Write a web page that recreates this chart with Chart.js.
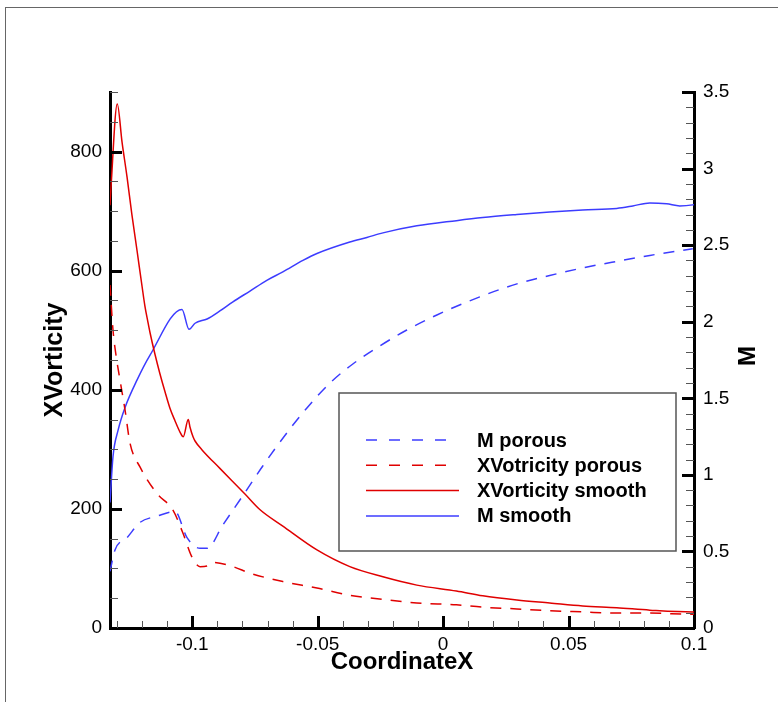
<!DOCTYPE html>
<html>
<head>
<meta charset="utf-8">
<title>XVorticity and M vs CoordinateX</title>
<script src="https://cdn.jsdelivr.net/npm/chart.js@4.4.1/dist/chart.umd.min.js"></script>
<style>
  html, body { margin: 0; padding: 0; background: #fff; overflow: hidden; }
  #wrap { position: relative; width: 778px; height: 702px; overflow: hidden; }
  #frame { position: absolute; left: 5px; top: 7px; right: -10px; bottom: -10px;
           border-left: 1px solid #666; border-top: 1px solid #666; pointer-events: none; }
</style>
</head>
<body>
<div id="wrap">
  <canvas id="flowChart" width="778" height="702"></canvas>
  <div id="frame"></div>
</div>
<script>
// values
const mPorousX = [-0.1328, -0.1308, -0.1260, -0.1208, -0.1141, -0.1069, -0.1021, -0.0969, -0.0941, -0.0878,
                  -0.0794, -0.0719, -0.0623, -0.0543, -0.0451, -0.0360, -0.0252, -0.0145, -0.0025, 0.0146,
                  0.0294, 0.0425, 0.0556, 0.0692, 0.0824, 0.0995];
const mPorous = [0.37, 0.51, 0.59, 0.69, 0.73, 0.76, 0.59, 0.52, 0.52, 0.673,
                 0.875, 1.058, 1.274, 1.437, 1.600, 1.724, 1.842, 1.946, 2.044, 2.162,
                 2.247, 2.302, 2.351, 2.394, 2.433, 2.476];

const vortPorousX = [-0.1328, -0.1316, -0.1304, -0.1288, -0.1268, -0.1248, -0.1208, -0.1141, -0.1077, -0.1037,
                     -0.1001, -0.0969, -0.0941, -0.0918, -0.0838, -0.0770, -0.0639, -0.0503, -0.0372, -0.0240,
                     -0.0105, 0.0053, 0.0158, 0.0294, 0.0425, 0.0556, 0.0692, 0.0824, 0.0995, 0.1];
const vortPorous = [576, 500, 458, 416, 366, 310, 270, 226, 198, 159,
                    119, 103, 104, 110, 103, 92, 78, 67, 55, 48,
                    42, 39, 35, 32, 29, 27, 25, 25, 23, 23];

const vortSmoothX = [-0.1328, -0.1324, -0.1299, -0.1280, -0.1260, -0.1241, -0.1220, -0.1200, -0.1189, -0.1177,
                     -0.1169, -0.1149, -0.1129, -0.1109, -0.1089, -0.1069, -0.1049, -0.1036, -0.1016, -0.1009,
                     -0.0997, -0.0989, -0.0961, -0.0890, -0.0790, -0.0731, -0.0639, -0.0503, -0.0372, -0.0240,
                     -0.0105, 0.0053, 0.0158, 0.0294, 0.0425, 0.0556, 0.0692, 0.0824, 0.0995, 0.1];
const vortSmooth = [710, 740, 880, 816, 757, 695, 633, 573, 541, 514,
                    497, 460, 427, 397, 369, 348, 329, 321, 350, 337,
                    321, 314, 299, 268, 225, 199, 171, 131, 103, 86,
                    72, 62, 54, 47, 42, 37, 34, 30, 27, 27];

const mSmoothX = [-0.1328, -0.1316, -0.1296, -0.1268, -0.1220, -0.1169, -0.1041, -0.1013, -0.0989, -0.0941,
                  -0.0890, -0.0838, -0.0770, -0.0703, -0.0639, -0.0559, -0.0503, -0.0372, -0.0304, -0.0240,
                  -0.0105, 0.0053, 0.0158, 0.0294, 0.0425, 0.0556, 0.0692, 0.0756, 0.0824, 0.0891,
                  0.0943, 0.0995, 0.1];
const mSmooth = [0.82, 1.12, 1.29, 1.44, 1.62, 1.78, 2.08, 1.95, 1.99, 2.018,
                 2.07, 2.13, 2.20, 2.27, 2.325, 2.40, 2.445, 2.52, 2.55, 2.58,
                 2.626, 2.66, 2.68, 2.70, 2.717, 2.73, 2.74, 2.756, 2.776, 2.77,
                 2.756, 2.763, 2.765];

// axis ranges and tick steps
const xMin = -0.1328, xMax = 0.1;
const xMinorStep = 0.01, xMajorStep = 0.05;
const vortMin = 0, vortMax = 900, vortMinorStep = 50, vortMajorStep = 200;
const machMin = 0, machMax = 3.5, machMinorStep = 0.1, machMajorStep = 0.5;

const BLUE = '#3c3cff';
const RED = '#e00000';
const FONT = "'Liberation Sans', Arial, Helvetica, sans-serif";

function pairs(xs, ys) {
    return xs.map((x, i) => ({ x: x, y: ys[i] }));
}

function isMultiple(v, step) {
    const r = v / step;
    return Math.abs(r - Math.round(r)) < 1e-6;
}

// ticks pointing into the plot, like the original
const insideTicks = {
    id: 'insideTicks',
    afterDatasetsDraw(chart) {
        const { ctx, chartArea: area, scales } = chart;
        const tick = (x1, y1, x2, y2, major) => {
            ctx.beginPath();
            ctx.lineWidth = major ? 3 : 1;
            ctx.strokeStyle = major ? '#000' : '#555';
            ctx.moveTo(x1, y1);
            ctx.lineTo(x2, y2);
            ctx.stroke();
        };
        ctx.save();
        ctx.setLineDash([]);
        const nx = Math.round(xMajorStep / xMinorStep);
        for (let i = Math.ceil(xMin / xMinorStep - 1e-6); i * xMinorStep <= xMax + 1e-9; i++) {
            const px = Math.round(scales.x.getPixelForValue(i * xMinorStep)) + 0.5;
            const major = i % nx === 0;
            tick(px, area.bottom, px, area.bottom - (major ? 12 : 7), major);
        }
        const nv = Math.round(vortMajorStep / vortMinorStep);
        for (let i = 1; i * vortMinorStep <= vortMax; i++) {
            const py = Math.round(scales.y.getPixelForValue(i * vortMinorStep)) + 0.5;
            const major = i % nv === 0;
            tick(area.left, py, area.left + (major ? 12 : 8), py, major);
        }
        const nm = Math.round(machMajorStep / machMinorStep);
        for (let i = 1; i * machMinorStep <= machMax + 1e-9; i++) {
            const py = Math.round(scales.y1.getPixelForValue(i * machMinorStep)) + 0.5;
            const major = i % nm === 0;
            tick(area.right, py, area.right - (major ? 12 : 8), py, major);
        }
        ctx.restore();
    }
};

// right axis title, turned the same way as the left one
const rightTitle = {
    id: 'rightTitle',
    afterDraw(chart) {
        const { ctx, chartArea: area } = chart;
        ctx.save();
        ctx.translate(748, (area.top + area.bottom) / 2 - 4);
        ctx.rotate(-Math.PI / 2);
        ctx.font = 'bold 24px ' + FONT;
        ctx.fillStyle = '#000';
        ctx.textAlign = 'center';
        ctx.textBaseline = 'middle';
        ctx.fillText('M', 0, 0);
        ctx.restore();
    }
};

// boxed legend inside the plot
const boxLegend = {
    id: 'boxLegend',
    afterDraw(chart) {
        const { ctx } = chart;
        const box = { left: 339, top: 393, right: 676, bottom: 551 };
        ctx.save();
        ctx.fillStyle = '#fff';
        ctx.fillRect(box.left, box.top, box.right - box.left, box.bottom - box.top);
        ctx.lineWidth = 1.5;
        ctx.strokeStyle = '#555';
        ctx.strokeRect(box.left, box.top, box.right - box.left, box.bottom - box.top);
        ctx.font = 'bold 20px ' + FONT;
        ctx.textBaseline = 'middle';
        ctx.fillStyle = '#000';
        chart.data.datasets.forEach((ds, i) => {
            const y = 440 + i * 25.3;
            ctx.beginPath();
            ctx.lineWidth = 1.5;
            ctx.strokeStyle = ds.borderColor;
            ctx.setLineDash(ds.borderDash ? [11, 12] : []);
            ctx.moveTo(366, y);
            ctx.lineTo(ds.borderDash ? 449 : 459, y);
            ctx.stroke();
            ctx.fillText(ds.label, 477, y + 1);
        });
        ctx.restore();
    }
};

Chart.defaults.font.family = FONT;
Chart.defaults.color = '#000';

const ctx = document.getElementById('flowChart').getContext('2d');

new Chart(ctx, {
    type: 'line',
    data: {
        datasets: [{
            label: 'M porous',
            data: pairs(mPorousX, mPorous),
            yAxisID: 'y1',
            borderColor: BLUE,
            borderDash: [11, 9],
        }, {
            label: 'XVotricity porous',
            data: pairs(vortPorousX, vortPorous),
            yAxisID: 'y',
            borderColor: RED,
            borderDash: [11, 9],
        }, {
            label: 'XVorticity smooth',
            data: pairs(vortSmoothX, vortSmooth),
            yAxisID: 'y',
            borderColor: RED,
        }, {
            label: 'M smooth',
            data: pairs(mSmoothX, mSmooth),
            yAxisID: 'y1',
            borderColor: BLUE,
        }]
    },
    options: {
        responsive: false,
        animation: false,
        devicePixelRatio: 1,
        datasets: {
            line: {
                borderWidth: 1.5,
                pointRadius: 0,
                fill: false,
                cubicInterpolationMode: 'monotone'
            }
        },
        layout: { padding: { top: 92, left: 0, right: 0, bottom: 0 } },
        plugins: {
            legend: { display: false },
            tooltip: { enabled: false }
        },
        scales: {
            x: {
                type: 'linear',
                min: xMin,
                max: xMax,
                grid: { display: false, drawTicks: false },
                border: { display: true, width: 3, color: '#000' },
                ticks: {
                    stepSize: xMinorStep,
                    autoSkip: false,
                    maxRotation: 0,
                    padding: 5,
                    font: { size: 19 },
                    callback: v => isMultiple(v, xMajorStep) ? String(Math.round(v * 100) / 100) : ''
                },
                title: {
                    display: true,
                    text: 'CoordinateX',
                    font: { size: 24, weight: 'bold' },
                    padding: { top: 0, bottom: 25 }
                },
                afterFit: s => { s.height = 74; }
            },
            y: {
                type: 'linear',
                position: 'left',
                min: vortMin,
                max: vortMax,
                grid: { display: false, drawTicks: false },
                border: { display: true, width: 3, color: '#000' },
                ticks: {
                    stepSize: vortMinorStep,
                    autoSkip: false,
                    padding: 8,
                    font: { size: 19 },
                    callback: v => (isMultiple(v, vortMajorStep) && v <= 800) ? String(v) : ''
                },
                title: {
                    display: true,
                    text: 'XVorticity',
                    font: { size: 25, weight: 'bold' },
                    padding: { top: 40, bottom: 0 }
                },
                afterFit: s => { s.width = 110; }
            },
            y1: {
                type: 'linear',
                position: 'right',
                min: machMin,
                max: machMax,
                grid: { display: false, drawTicks: false },
                border: { display: true, width: 3, color: '#000' },
                ticks: {
                    stepSize: machMinorStep,
                    autoSkip: false,
                    padding: 9,
                    font: { size: 19 },
                    callback: v => isMultiple(v, machMajorStep) ? String(Math.round(v * 10) / 10) : ''
                },
                afterFit: s => { s.width = 84; }
            }
        }
    },
    plugins: [insideTicks, boxLegend, rightTitle]
});
</script>
</body>
</html>
